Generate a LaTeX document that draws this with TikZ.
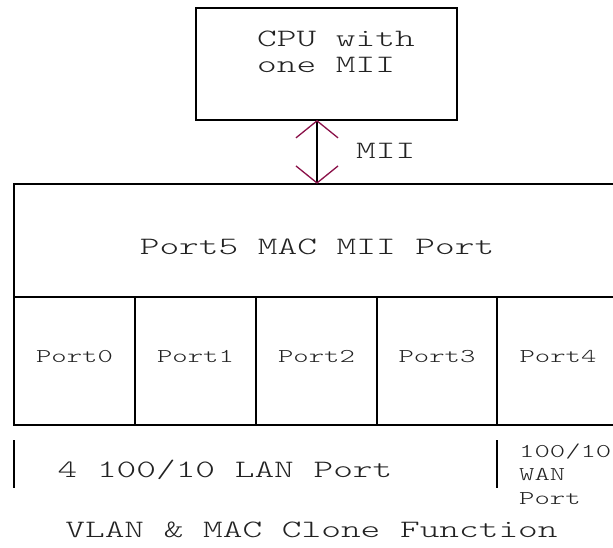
\documentclass[tikz,border=0pt]{standalone}
\usepackage{fontspec}
\newfontfamily\cour{Latin Modern Mono Light}[FakeStretch=1.5]
\usetikzlibrary{arrows.meta}
\definecolor{arrowred}{HTML}{8A1048}
\definecolor{txt}{HTML}{222222}
\begin{document}
\begin{tikzpicture}[x=1pt,y=-1pt,
  frame/.style={line width=1.3pt, black},
  bigtxt/.style={font=\cour\fontsize{25}{26}\selectfont, text=txt, inner sep=0pt},
  smalltxt/.style={font=\cour\fontsize{19.5}{23.5}\selectfont, text=txt, inner sep=0pt},
  boxnode/.style={draw, line width=1.3pt, inner sep=0pt},
  mii/.style={line width=1.3pt, {Straight Barb[length=17pt,width=42pt,line width=1.3pt,color=arrowred]}-{Straight Barb[length=17pt,width=42pt,line width=1.3pt,color=arrowred]}}
]
\useasboundingbox (0,0) rectangle (613,547);
\fill[white] (0,0) rectangle (613,547);

% CPU box
\node[boxnode, minimum width=261pt, minimum height=112pt] (cpu) at (326.5,64) {};
\node[bigtxt, anchor=base west, align=left] (cputxt) at (257,72) {CPU with\\one MII};

% Port5 MAC box (open to the right)
\node[minimum width=599pt, minimum height=113pt, inner sep=0pt] (mac) at (313.5,240.5) {};
\draw[frame] (613,184) -- (14,184) -- (14,425) -- (613,425);
\draw[frame] (14,297) -- (613,297);
\node[bigtxt, anchor=base] (mactxt) at (317,254) {Port5 MAC MII Port};

% MII link
\coordinate (mtop) at (317,120);
\draw[mii] (mtop) -- (mtop |- mac.north);
\node[bigtxt, anchor=base west] (miitxt) at (356,158) {MII};

% Port cells
\foreach \x in {135,256,377,497} \draw[frame] (\x,297) -- (\x,425);
\node[smalltxt, anchor=base] (p0) at (74.5,362) {Port0};
\node[smalltxt, anchor=base] (p1) at (195.5,362) {Port1};
\node[smalltxt, anchor=base] (p2) at (316.5,362) {Port2};
\node[smalltxt, anchor=base] (p3) at (437,362) {Port3};
\node[smalltxt, anchor=base] (p4) at (558,362) {Port4};

% bottom labels
\coordinate (t1a) at (14,440); \coordinate (t1b) at (14,488);
\coordinate (t2a) at (497,440); \coordinate (t2b) at (497,488);
\draw[frame] (t1a) -- (t1b);
\draw[frame] (t2a) -- (t2b);
\node[bigtxt, anchor=base] (lan) at (225,477) {4 100/10 LAN Port};
\node[smalltxt, anchor=base west, align=left] (wan) at (519,504) {100/10\\WAN\\Port};
\node[bigtxt, anchor=base] (vlan) at (311.5,537) {VLAN \& MAC Clone Function};
\end{tikzpicture}
\end{document}
